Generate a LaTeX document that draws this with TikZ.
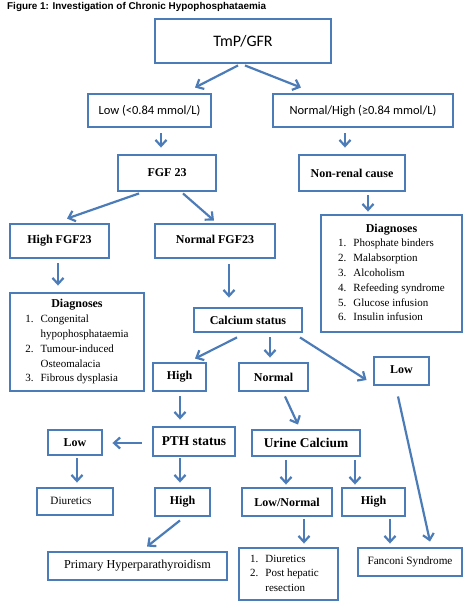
\documentclass[tikz,border=0pt]{standalone}
\usepackage{fontspec}
\setmainfont{Liberation Serif}
\newfontfamily\calfont{Carlito}
\newfontfamily\arifont{Liberation Sans}
\usetikzlibrary{arrows.meta}
\definecolor{bl}{RGB}{76,124,184}
\begin{document}
\begin{tikzpicture}[x=1pt,y=-1pt,
  box/.style={draw=bl, line width=2.9pt, inner sep=0pt, align=center,
    font=\fontsize{12}{14}\selectfont\bfseries},
  bigbox/.style={box, font=\fontsize{13.4}{15}\selectfont\bfseries},
  calbox/.style={box, font=\fontsize{12.5}{14}\selectfont\calfont},
  plainbox/.style={box, font=\fontsize{11.2}{14}\selectfont},
  listbox/.style={box, font=\fontsize{11}{14.8}\selectfont},
  arr/.style={draw=bl, line width=2.2pt, -{Straight Barb[length=6pt,width=11pt]}}]
\useasboundingbox (0,0) rectangle (474,606);

\node[anchor=west, inner sep=0pt, font=\fontsize{9.9}{12}\selectfont\arifont\bfseries] (title) at (7,6.5)
  {Figure 1: Investigation of Chronic Hypophosphataemia};

\node[box, font=\fontsize{16}{18}\selectfont\calfont, minimum width=176pt, minimum height=44pt] (tmp) at (243,41) {TmP/GFR};
\node[calbox, minimum width=123pt, minimum height=33pt] (low) at (149.5,110.5) {Low (<0.84 mmol/L)};
\node[calbox, minimum width=180pt, minimum height=33pt] (nh) at (363,110.5) {Normal/High (≥0.84 mmol/L)};
\node[box, minimum width=98pt, minimum height=36pt] (fgf) at (167,173) {FGF 23};
\node[box, minimum width=106pt, minimum height=36pt] (nonren) at (352,173) {Non-renal cause};
\node[box, minimum width=99pt, minimum height=34pt] (hfgf) at (59.5,241) {\raisebox{3pt}{High FGF23}};
\node[box, minimum width=120pt, minimum height=34pt] (nfgf) at (215,241) {\raisebox{3pt}{Normal FGF23}};

\node[listbox, minimum width=141pt, minimum height=117pt] (diagR) at (391.5,273.5)
  {\begin{tabular}{@{}l@{\hspace{7pt}}l@{}}
   \multicolumn{2}{c}{\fontsize{12}{14}\selectfont\bfseries Diagnoses}\\
   1. & Phosphate binders\\
   2. & Malabsorption\\
   3. & Alcoholism\\
   4. & Refeeding syndrome\\
   5. & Glucose infusion\\
   6. & Insulin infusion
   \end{tabular}};

\node[listbox, minimum width=134pt, minimum height=98pt] (diagL) at (77,342)
  {\begin{tabular}{@{}l@{\hspace{7pt}}l@{}}
   \multicolumn{2}{c}{\fontsize{12}{14}\selectfont\bfseries Diagnoses}\\
   1. & Congenital\\
      & hypophosphataemia\\
   2. & Tumour-induced\\
      & Osteomalacia\\
   3. & Fibrous dysplasia
   \end{tabular}};

\node[box, minimum width=108pt, minimum height=24pt] (calc) at (248,320) {Calcium status};
\node[box, minimum width=53pt, minimum height=28pt] (high1) at (179.5,377) {High};
\node[box, minimum width=69pt, minimum height=28pt] (normal) at (273.5,377) {Normal};
\node[box, minimum width=55pt, minimum height=28pt] (lowR) at (401.5,371) {\raisebox{2pt}{Low}};
\node[bigbox, minimum width=82pt, minimum height=29pt] (pth) at (194,441.5) {PTH status};
\node[box, minimum width=54pt, minimum height=25pt] (lowL) at (75,442.5) {Low};
\node[bigbox, minimum width=108pt, minimum height=26pt] (urine) at (306,443) {Urine Calcium};
\node[plainbox, minimum width=76pt, minimum height=27pt] (diur) at (75,501.5) {\hspace*{-8pt}\raisebox{2pt}{Diuretics}};
\node[box, minimum width=55pt, minimum height=28pt] (high2) at (182.5,502) {High};
\node[box, minimum width=90pt, minimum height=28pt] (lownorm) at (287,502) {Low/Normal};
\node[box, minimum width=63pt, minimum height=28pt] (high3) at (373.5,502) {High};
\node[box, font=\fontsize{12.2}{14}\selectfont, minimum width=179pt, minimum height=28pt] (prim) at (137.5,566) {\raisebox{2pt}{Primary Hyperparathyroidism}};
\node[listbox, minimum width=99pt, minimum height=52pt] (diurlist) at (288.5,574)
  {\hspace*{-8pt}\begin{tabular}{@{}l@{\hspace{7pt}}l@{}}
   1. & Diuretics\\
   2. & Post hepatic\\
      & resection
   \end{tabular}};
\node[plainbox, minimum width=104pt, minimum height=28pt] (fanc) at (410,562) {\raisebox{2pt}{Fanconi Syndrome}};

% connectors
\draw[arr] ([xshift=-5pt,yshift=-1pt]tmp.south) -- ([xshift=45.5pt,yshift=5pt]low.north);
\draw[arr] ([xshift=2pt,yshift=-1pt]tmp.south) -- ([xshift=-62pt,yshift=5pt]nh.north);
\draw[arr] ([xshift=11.5pt,yshift=-5pt]low.south) -- ([xshift=-6pt,yshift=6pt]fgf.north);
\draw[arr] ([xshift=-18pt,yshift=-5pt]nh.south) -- ([xshift=-7pt,yshift=6pt]nonren.north);
\draw[arr] ([xshift=-28pt,yshift=-1pt]fgf.south) -- ([xshift=7.5pt,yshift=4pt]hfgf.north);
\draw[arr] ([xshift=16pt,yshift=-1pt]fgf.south) -- ([xshift=-1pt,yshift=2pt]nfgf.north);
\draw[arr] ([xshift=16pt,yshift=-3pt]nonren.south) -- ([xshift=-23.5pt,yshift=2pt]diagR.north);
\draw[arr] ([xshift=-1.5pt,yshift=-4pt]hfgf.south) -- ([xshift=-19pt,yshift=6pt]diagL.north);
\draw[arr] ([xshift=14pt,yshift=-5pt]nfgf.south) -- ([xshift=-19pt,yshift=9pt]calc.north);
\draw[arr] ([xshift=-11pt,yshift=-4pt]calc.south) -- ([xshift=15.5pt,yshift=3pt]high1.north);
\draw[arr] ([xshift=22pt,yshift=-4pt]calc.south) -- ([xshift=-3.5pt,yshift=4pt]normal.north);
\draw[arr] ([xshift=52pt,yshift=-4pt]calc.south) -- ([xshift=-6pt,yshift=-9pt]lowR.west);
\draw[arr] ([xshift=0.5pt,yshift=-4pt]high1.south) -- ([xshift=-14pt,yshift=6pt]pth.north);
\draw[arr] ([xshift=11.5pt,yshift=-4pt]normal.south) -- ([xshift=-8pt,yshift=4pt]urine.north);
\draw[arr] ([xshift=-3.5pt,yshift=-10pt]lowR.south) -- ([xshift=20pt,yshift=5pt]fanc.north);
\draw[arr] ([xshift=-10pt,yshift=-1.5pt]pth.west) -- ([xshift=9pt,yshift=-0.5pt]lowL.east);
\draw[arr] ([xshift=2pt,yshift=-2pt]lowL.south) -- ([xshift=2pt,yshift=4pt]diur.north);
\draw[arr] ([xshift=-14pt,yshift=-1pt]pth.south) -- ([xshift=-2.5pt,yshift=4pt]high2.north);
\draw[arr] ([xshift=-2.5pt,yshift=-3pt]high2.south) -- ([xshift=9.5pt,yshift=4pt]prim.north);
\draw[arr] ([xshift=-20pt,yshift=-3pt]urine.south) -- ([xshift=-1pt,yshift=2pt]lownorm.north);
\draw[arr] ([xshift=49pt,yshift=-3pt]urine.south) -- ([xshift=-18.5pt,yshift=2pt]high3.north);
\draw[arr] ([xshift=17pt,yshift=-2pt]lownorm.south) -- ([xshift=15.5pt,yshift=3pt]diurlist.north);
\draw[arr] ([xshift=16.5pt,yshift=-2pt]high3.south) -- ([xshift=-20pt,yshift=3pt]fanc.north);
\end{tikzpicture}
\end{document}
